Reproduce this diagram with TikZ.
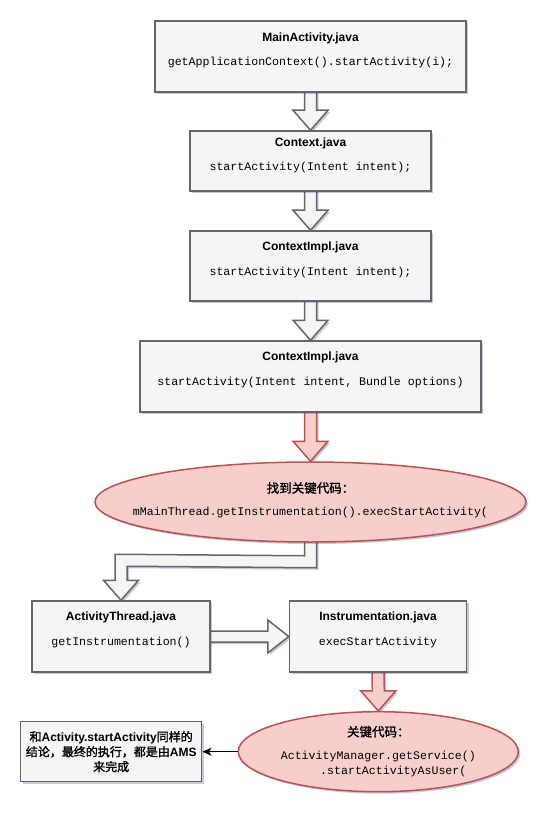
\documentclass[tikz,border=0pt]{standalone}
\usepackage{fontspec}
\setmainfont{Liberation Sans}
\setmonofont{Liberation Mono}
\newfontfamily\cjk{Noto Sans CJK SC}[AutoFakeBold=1.5]
\usetikzlibrary{shapes.geometric,shadows,calc,arrows.meta}
\definecolor{boxfill}{HTML}{F5F5F5}
\definecolor{boxline}{HTML}{666666}
\definecolor{redfill}{HTML}{F8CECC}
\definecolor{redline}{HTML}{B85450}
\pgfdeclarelayer{bg}
\pgfsetlayers{bg,main}
\tikzset{
  shd/.style={drop shadow={shadow xshift=2pt,shadow yshift=-2pt,opacity=0.22,fill=black!60!blue}},
  box/.style={draw=boxline,fill=boxfill,line width=1.5pt,rectangle,inner sep=0pt,shd},
  redell/.style={draw=redline,fill=redfill,line width=1.5pt,ellipse,inner sep=0pt,shd},
  ttl/.style={font=\fontsize{12}{14}\selectfont\bfseries,inner sep=0pt,text height=9pt,text depth=2.5pt},
  cjkttl/.style={font=\fontsize{12.5}{14}\selectfont\cjk\bfseries,inner sep=0pt},
  code/.style={font=\fontsize{11.6}{14}\selectfont\ttfamily,inner sep=0pt,text height=8pt,text depth=2.5pt},
  grayblk/.style={draw=boxline,fill=boxfill,line width=1.5pt,line join=miter,shd},
  redblk/.style={draw=redline,fill=redfill,line width=1.5pt,line join=miter,shd},
}
\newcommand\vblk[3]{%
  \draw[#1] ($(#2)+(-6,-3)$) -- ($(#3)+(-6,-20)$) -- ($(#3)+(-17.5,-20)$) -- (#3)
    -- ($(#3)+(17.5,-20)$) -- ($(#3)+(6,-20)$) -- ($(#2)+(6,-3)$) -- cycle;}
\begin{document}
\begin{tikzpicture}[x=1pt,y=-1pt]
\useasboundingbox (0,0) rectangle (553,818);
% boxes
\node[box,minimum width=311pt,minimum height=71pt] (main) at (310.5,56.5) {};
\node[ttl]  (mainT) at ([yshift=18.5pt]main.center) {MainActivity.java};
\node[code] (mainC) at ([yshift=-6.5pt]main.center) {getApplicationContext().startActivity(i);};

\node[box,minimum width=241pt,minimum height=60pt] (ctx) at (310.5,161) {};
\node[ttl]  (ctxT) at ([yshift=18pt]ctx.center) {Context.java};
\node[code] (ctxC) at ([yshift=-7pt]ctx.center) {startActivity(Intent intent);};

\node[box,minimum width=241pt,minimum height=70pt] (impl) at (310.5,266) {};
\node[ttl]  (implT) at ([yshift=18.5pt]impl.center) {ContextImpl.java};
\node[code] (implC) at ([yshift=-7pt]impl.center) {startActivity(Intent intent);};

\node[box,minimum width=341pt,minimum height=71pt] (implb) at (310.5,376.5) {};
\node[ttl]  (implbT) at ([yshift=19pt]implb.center) {ContextImpl.java};
\node[code] (implbC) at ([yshift=-6.5pt]implb.center) {startActivity(Intent intent, Bundle options)};

\node[redell,minimum width=431pt,minimum height=80pt] (key) at (310.5,502) {};
\node[cjkttl] (keyT) at ([yshift=14pt]key.center) {找到关键代码：};
\node[code]   (keyC) at ([yshift=-11pt]key.center) {mMainThread.getInstrumentation().execStartActivity(};

\node[box,minimum width=178pt,minimum height=71pt] (at) at (121,636.5) {};
\node[ttl]  (atT) at ([yshift=19.5pt]at.center) {ActivityThread.java};
\node[code] (atC) at ([yshift=-6.5pt]at.center) {getInstrumentation()};

\node[box,minimum width=177pt,minimum height=71pt] (inst) at (378,636.5) {};
\node[ttl]  (instT) at ([yshift=19.5pt]inst.center) {Instrumentation.java};
\node[code] (instC) at ([yshift=-6.5pt]inst.center) {execStartActivity};

\node[redell,minimum width=280pt,minimum height=80pt] (ams) at (378.3,751.7) {};
\node[cjkttl] (amsT) at ([yshift=20pt]ams.center) {关键代码：};
\node[code]   (amsC1) at ([yshift=-5pt]ams.center) {ActivityManager.getService()};
\node[code]   (amsC2) at ([xshift=15pt,yshift=-20pt]ams.center) {.startActivityAsUser(};

\node[box,minimum width=181pt,minimum height=60pt,align=center,
      font=\fontsize{12}{15}\selectfont\bfseries] (note) at (111.2,751.7)
  {{\cjk 和}Activity.startActivity{\cjk 同样的}\\{\cjk 结论，最终的执行，都是由}AMS\\{\cjk 来完成}};

% block arrows (behind nodes)
\begin{pgfonlayer}{bg}
\vblk{grayblk}{main.south}{ctx.north}
\vblk{grayblk}{ctx.south}{impl.north}
\vblk{grayblk}{impl.south}{implb.north}
\vblk{redblk}{implb.south}{key.north}
\vblk{redblk}{inst.south}{ams.north}
% elbow arrow
\coordinate (eTip) at (at.north);
\draw[grayblk] ($(key.south)+(6,-3)$) -- ($(key.south)+(6,25)$) -- ($(eTip)+(6,-34)$)
  -- ($(eTip)+(6,-20)$) -- ($(eTip)+(17.5,-20)$) -- (eTip) -- ($(eTip)+(-17.5,-20)$)
  -- ($(eTip)+(-6,-20)$) -- ($(eTip)+(-6,-46)$) -- ($(key.south)+(-6,13)$)
  -- ($(key.south)+(-6,-3)$) -- cycle;
% horizontal arrow
\draw[grayblk] ($(at.east)+(-3,-5.5)$) -- ($(inst.west)+(-21,-5.5)$) -- ($(inst.west)+(-21,-16.5)$)
  -- (inst.west) -- ($(inst.west)+(-21,16.5)$) -- ($(inst.west)+(-21,5.5)$)
  -- ($(at.east)+(-3,5.5)$) -- cycle;
\end{pgfonlayer}
\draw[line width=1.5pt,-{Stealth[length=9pt,width=8pt,inset=2.5pt]}] (ams.west) -- (note.east);
\end{tikzpicture}
\end{document}
